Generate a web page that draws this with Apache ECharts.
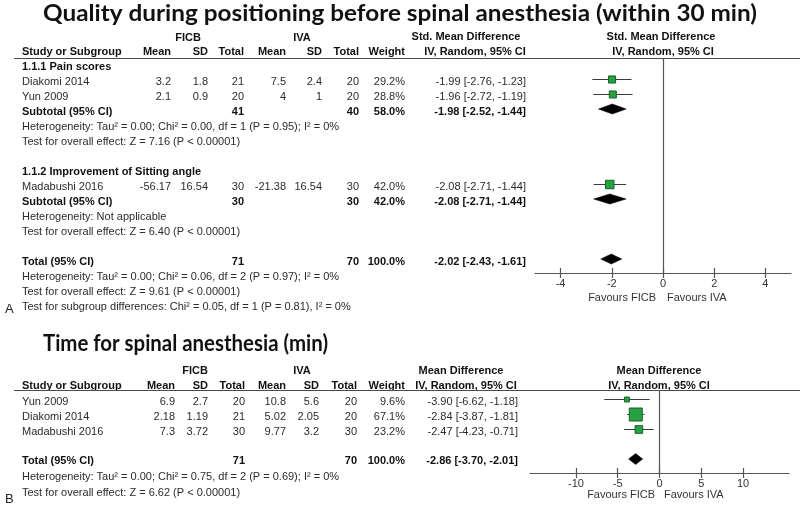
<!DOCTYPE html>
<html><head><meta charset="utf-8">
<script src="https://cdn.jsdelivr.net/npm/echarts@6/dist/echarts.min.js"></script>
<style>html,body{margin:0;padding:0;background:#fff}#c{width:800px;height:507px}</style>
</head><body><div id="c"></div>
<script>
// ---------------- DATA ----------------
const titleA = 'Quality during positioning before spinal anesthesia (within 30 min)';
const titleB = 'Time for spinal anesthesia (min)';
const headerCols = ['Mean', 'SD', 'Total', 'Mean', 'SD', 'Total', 'Weight'];
const groupLabels = ['FICB', 'IVA'];

// Panel A (Std. Mean Difference)
const subgroupNamesA = ['1.1.1 Pain scores', '1.1.2 Improvement of Sitting angle'];
const studiesA = ['Diakomi 2014', 'Yun 2009', 'Madabushi 2016'];
const studySubgroupA = [0, 0, 1];
const ficbMeanA = [3.2, 2.1, -56.17];
const ficbSdA = [1.8, 0.9, 16.54];
const ficbNA = [21, 20, 30];
const ivaMeanA = [7.5, 4, -21.38];
const ivaSdA = [2.4, 1, 16.54];
const ivaNA = [20, 20, 30];
const weightA = [29.2, 28.8, 42.0];
const estA = [-1.99, -1.96, -2.08];
const loA = [-2.76, -2.72, -2.71];
const hiA = [-1.23, -1.19, -1.44];
const subFicbNA = [41, 30];
const subIvaNA = [40, 30];
const subWeightA = [58.0, 42.0];
const subEstA = [-1.98, -2.08];
const subLoA = [-2.52, -2.71];
const subHiA = [-1.44, -1.44];
const subHetA = ['Heterogeneity: Tau\u00b2 = 0.00; Chi\u00b2 = 0.00, df = 1 (P = 0.95); I\u00b2 = 0%', 'Heterogeneity: Not applicable'];
const subTestA = ['Test for overall effect: Z = 7.16 (P < 0.00001)', 'Test for overall effect: Z = 6.40 (P < 0.00001)'];
const totalA = {ficbN: 71, ivaN: 70, weight: 100.0, est: -2.02, lo: -2.43, hi: -1.61};
const totalNotesA = ['Heterogeneity: Tau\u00b2 = 0.00; Chi\u00b2 = 0.06, df = 2 (P = 0.97); I\u00b2 = 0%',
  'Test for overall effect: Z = 9.61 (P < 0.00001)',
  'Test for subgroup differences: Chi\u00b2 = 0.05, df = 1 (P = 0.81), I\u00b2 = 0%'];
const ticksA = [-4, -2, 0, 2, 4];
const rangeA = [-5, 5];

// Panel B (Mean Difference)
const studiesB = ['Yun 2009', 'Diakomi 2014', 'Madabushi 2016'];
const ficbMeanB = [6.9, 2.18, 7.3];
const ficbSdB = [2.7, 1.19, 3.72];
const ficbNB = [20, 21, 30];
const ivaMeanB = [10.8, 5.02, 9.77];
const ivaSdB = [5.6, 2.05, 3.2];
const ivaNB = [20, 20, 30];
const weightB = [9.6, 67.1, 23.2];
const estB = [-3.90, -2.84, -2.47];
const loB = [-6.62, -3.87, -4.23];
const hiB = [-1.18, -1.81, -0.71];
const totalB = {ficbN: 71, ivaN: 70, weight: 100.0, est: -2.86, lo: -3.70, hi: -2.01};
const totalNotesB = ['Heterogeneity: Tau\u00b2 = 0.00; Chi\u00b2 = 0.75, df = 2 (P = 0.69); I\u00b2 = 0%',
  'Test for overall effect: Z = 6.62 (P < 0.00001)'];
const ticksB = [-10, -5, 0, 5, 10];
const rangeB = [-15.5, 15.5];
const favours = ['Favours FICB', 'Favours IVA'];

// ---------------- LAYOUT ----------------
const FONT = '"Liberation Sans", Arial, sans-serif';
const TFONT = 'Lato, "Open Sans", sans-serif';
const ROW = 15;
const g = [];
function T(x, y, text, o) {
  o = o || {};
  g.push({type: 'text', x: x, y: y, silent: true, scaleX: o.scaleX || 1,
    style: {text: String(text), fill: o.color || (o.bold ? '#111' : '#2b2b2b'),
      font: (o.bold ? 'bold ' : '') + (o.size || 11) + 'px ' + (o.family || FONT),
      align: o.align || 'left', verticalAlign: 'middle'}});
}
function HL(x1, x2, y) {
  g.push({type: 'line', silent: true, shape: {x1: x1, y1: y, x2: x2, y2: y}, style: {stroke: '#4a4a4a', lineWidth: 1.2}});
}
function fit(text, font, target) {
  const c = document.createElement('canvas').getContext('2d');
  c.font = font; return target / c.measureText(text).width;
}
const ci = (e, l, h) => e.toFixed(2) + ' [' + l.toFixed(2) + ', ' + h.toFixed(2) + ']';
const pct = w => w.toFixed(1) + '%';

// ---- Panel A text ----
const tfA = 'bold 23px ' + TFONT;
T(43, 14, titleA, {bold: true, size: 23, family: TFONT, scaleX: fit(titleA, tfA, 714), color: '#111'});
const colA = [171, 208, 244, 286, 322, 359, 405];
const ciRA = 526;
T(188, 38, groupLabels[0], {bold: true, align: 'center'});
T(302, 38, groupLabels[1], {bold: true, align: 'center'});
T(466, 37, 'Std. Mean Difference', {bold: true, align: 'center'});
T(661, 37, 'Std. Mean Difference', {bold: true, align: 'center'});
T(22, 52, 'Study or Subgroup', {bold: true});
headerCols.forEach((h, i) => T(colA[i], 52, h, {bold: true, align: 'right'}));
T(475, 52, 'IV, Random, 95% CI', {bold: true, align: 'center'});
T(663, 52, 'IV, Random, 95% CI', {bold: true, align: 'center'});
HL(14, 800, 58.5);

const rowYA = r => 67 + ROW * r;
const studyRowsA = [], subRowsA = [];
let r = 0;
subgroupNamesA.forEach((sg, k) => {
  T(22, rowYA(r), sg, {bold: true}); r++;
  studiesA.forEach((s, i) => {
    if (studySubgroupA[i] !== k) return;
    const y = rowYA(r);
    T(22, y, s);
    [ficbMeanA[i], ficbSdA[i], ficbNA[i], ivaMeanA[i], ivaSdA[i], ivaNA[i], pct(weightA[i])]
      .forEach((v, j) => T(colA[j], y, v, {align: 'right'}));
    T(ciRA, y, ci(estA[i], loA[i], hiA[i]), {align: 'right'});
    studyRowsA.push([r, loA[i], hiA[i], estA[i], weightA[i]]);
    r++;
  });
  const y = rowYA(r);
  T(22, y, 'Subtotal (95% CI)', {bold: true});
  T(colA[2], y, subFicbNA[k], {bold: true, align: 'right'});
  T(colA[5], y, subIvaNA[k], {bold: true, align: 'right'});
  T(colA[6], y, pct(subWeightA[k]), {bold: true, align: 'right'});
  T(ciRA, y, ci(subEstA[k], subLoA[k], subHiA[k]), {bold: true, align: 'right'});
  subRowsA.push([r, subLoA[k], subHiA[k], subEstA[k]]);
  r++;
  T(22, rowYA(r), subHetA[k]); r++;
  T(22, rowYA(r), subTestA[k]); r++;
  r++;
});
{
  const y = rowYA(r);
  T(22, y, 'Total (95% CI)', {bold: true});
  T(colA[2], y, totalA.ficbN, {bold: true, align: 'right'});
  T(colA[5], y, totalA.ivaN, {bold: true, align: 'right'});
  T(colA[6], y, pct(totalA.weight), {bold: true, align: 'right'});
  T(ciRA, y, ci(totalA.est, totalA.lo, totalA.hi), {bold: true, align: 'right'});
  subRowsA.push([r, totalA.lo, totalA.hi, totalA.est]);
  r++;
  totalNotesA.forEach(t => { T(22, rowYA(r), t); r++; });
}
T(5, 309, 'A', {size: 13, color: '#222'});

// ---- Panel B text ----
const tfB = 'bold 23px ' + TFONT;
T(43, 344, titleB, {bold: true, size: 23, family: TFONT, scaleX: fit(titleB, tfB, 285), color: '#111'});
const colB = [175, 208, 245, 286, 319, 357, 405];
const ciRB = 518;
T(195, 371, groupLabels[0], {bold: true, align: 'center'});
T(302, 371, groupLabels[1], {bold: true, align: 'center'});
T(461, 371, 'Mean Difference', {bold: true, align: 'center'});
T(659, 371, 'Mean Difference', {bold: true, align: 'center'});
T(22, 386, 'Study or Subgroup', {bold: true});
headerCols.forEach((h, i) => T(colB[i], 386, h, {bold: true, align: 'right'}));
T(466, 386, 'IV, Random, 95% CI', {bold: true, align: 'center'});
T(659, 386, 'IV, Random, 95% CI', {bold: true, align: 'center'});
HL(14, 800, 390.5);
const rowYB = r => 402 + ROW * r;
const studyRowsB = [];
studiesB.forEach((s, i) => {
  const y = rowYB(i);
  T(22, y, s);
  [ficbMeanB[i], ficbSdB[i], ficbNB[i], ivaMeanB[i], ivaSdB[i], ivaNB[i], pct(weightB[i])]
    .forEach((v, j) => T(colB[j], y, v, {align: 'right'}));
  T(ciRB, y, ci(estB[i], loB[i], hiB[i]), {align: 'right'});
  studyRowsB.push([i, loB[i], hiB[i], estB[i], weightB[i]]);
});
const totRowB = studiesB.length + 1;
{
  const y = rowYB(totRowB) - 1;
  T(22, y, 'Total (95% CI)', {bold: true});
  T(colB[2], y, totalB.ficbN, {bold: true, align: 'right'});
  T(colB[5], y, totalB.ivaN, {bold: true, align: 'right'});
  T(colB[6], y, pct(totalB.weight), {bold: true, align: 'right'});
  T(ciRB, y, ci(totalB.est, totalB.lo, totalB.hi), {bold: true, align: 'right'});
  T(22, 477, totalNotesB[0]);
  T(22, 493, totalNotesB[1]);
}
const diamondRowsB = [[totRowB, totalB.lo, totalB.hi, totalB.est]];
T(5, 499, 'B', {size: 13, color: '#222'});

// Favours labels
T(656, 298, favours[0], {align: 'right', color: '#333'});
T(667, 298, favours[1], {color: '#333'});
T(655, 495, favours[0], {align: 'right', color: '#333'});
T(664, 495, favours[1], {color: '#333'});

// ---------------- CHART ----------------
const gA = {left: 535, top: 58, width: 256, height: 215, mark0: 64};
const gB = {left: 530, top: 390, width: 259, height: 83, mark0: 399};
function yRange(gr) { return [(gr.top - gr.mark0) / ROW, (gr.top + gr.height - gr.mark0) / ROW]; }
const yrA = yRange(gA), yrB = yRange(gB);

function studyRender(maxW, maxSize) {
  return function (params, api) {
    const row = api.value(0);
    const lo = api.coord([api.value(1), row]);
    const hi = api.coord([api.value(2), row]);
    const c = api.coord([api.value(3), row]);
    const s = Math.max(3, Math.sqrt(api.value(4) / maxW) * maxSize);
    const y = Math.round(c[1]) + 0.5;
    return {type: 'group', children: [
      {type: 'line', shape: {x1: lo[0], y1: y, x2: hi[0], y2: y}, style: {stroke: '#3a3a3a', lineWidth: 1}},
      {type: 'rect', shape: {x: c[0] - s / 2, y: y - s / 2, width: s, height: s},
        style: {fill: '#27a243', stroke: '#17602a', lineWidth: 1}}
    ]};
  };
}
function diamondRender(h) {
  return function (params, api) {
    const row = api.value(0);
    const lo = api.coord([api.value(1), row]);
    const hi = api.coord([api.value(2), row]);
    const c = api.coord([api.value(3), row]);
    return {type: 'polygon', shape: {points: [[lo[0], c[1]], [c[0], c[1] - h / 2], [hi[0], c[1]], [c[0], c[1] + h / 2]]},
      style: {fill: '#000', stroke: '#000', lineWidth: 0.5}};
  };
}
function xAxes(gridIndex, range, ticks, h) {
  const common = {type: 'value', gridIndex: gridIndex, min: range[0], max: range[1], splitLine: {show: false}};
  const tickStyle = {color: '#555', width: 1.2};
  return [
    Object.assign({}, common, {
      position: 'bottom',
      axisLine: {show: true, onZero: false, lineStyle: {color: '#555', width: 1.2}},
      axisTick: {show: true, inside: false, length: 5, customValues: ticks, lineStyle: tickStyle},
      axisLabel: {show: true, customValues: ticks, margin: 5, color: '#333', fontSize: 11, fontFamily: FONT}
    }),
    Object.assign({}, common, {
      position: 'top', offset: -h,
      axisLine: {show: false, onZero: false},
      axisTick: {show: true, inside: false, length: 5, customValues: ticks, lineStyle: tickStyle},
      axisLabel: {show: false}
    })
  ];
}
const zeroLine = {silent: true, symbol: 'none', label: {show: false},
  lineStyle: {color: '#555', width: 1.2, type: 'solid'}, data: [{xAxis: 0}], animation: false};

const option = {
  animation: false,
  backgroundColor: '#fff',
  grid: [
    {left: gA.left, top: gA.top, width: gA.width, height: gA.height},
    {left: gB.left, top: gB.top, width: gB.width, height: gB.height}
  ],
  xAxis: xAxes(0, rangeA, ticksA, gA.height).concat(xAxes(1, rangeB, ticksB, gB.height)),
  yAxis: [
    {type: 'value', gridIndex: 0, inverse: true, min: yrA[0], max: yrA[1], show: false},
    {type: 'value', gridIndex: 1, inverse: true, min: yrB[0], max: yrB[1], show: false}
  ],
  series: [
    {type: 'custom', xAxisIndex: 0, yAxisIndex: 0, renderItem: studyRender(42, 8.5),
      encode: {x: [1, 2, 3], y: 0}, data: studyRowsA, markLine: zeroLine, z: 3},
    {type: 'custom', xAxisIndex: 0, yAxisIndex: 0, renderItem: diamondRender(10),
      encode: {x: [1, 2, 3], y: 0}, data: subRowsA, z: 3},
    {type: 'custom', xAxisIndex: 2, yAxisIndex: 1, renderItem: studyRender(67.1, 13),
      encode: {x: [1, 2, 3], y: 0}, data: studyRowsB, markLine: zeroLine, z: 3},
    {type: 'custom', xAxisIndex: 2, yAxisIndex: 1, renderItem: diamondRender(11),
      encode: {x: [1, 2, 3], y: 0}, data: diamondRowsB, z: 3}
  ],
  graphic: g
};
const chart = echarts.init(document.getElementById('c'));
chart.setOption(option);
</script>
</body></html>
